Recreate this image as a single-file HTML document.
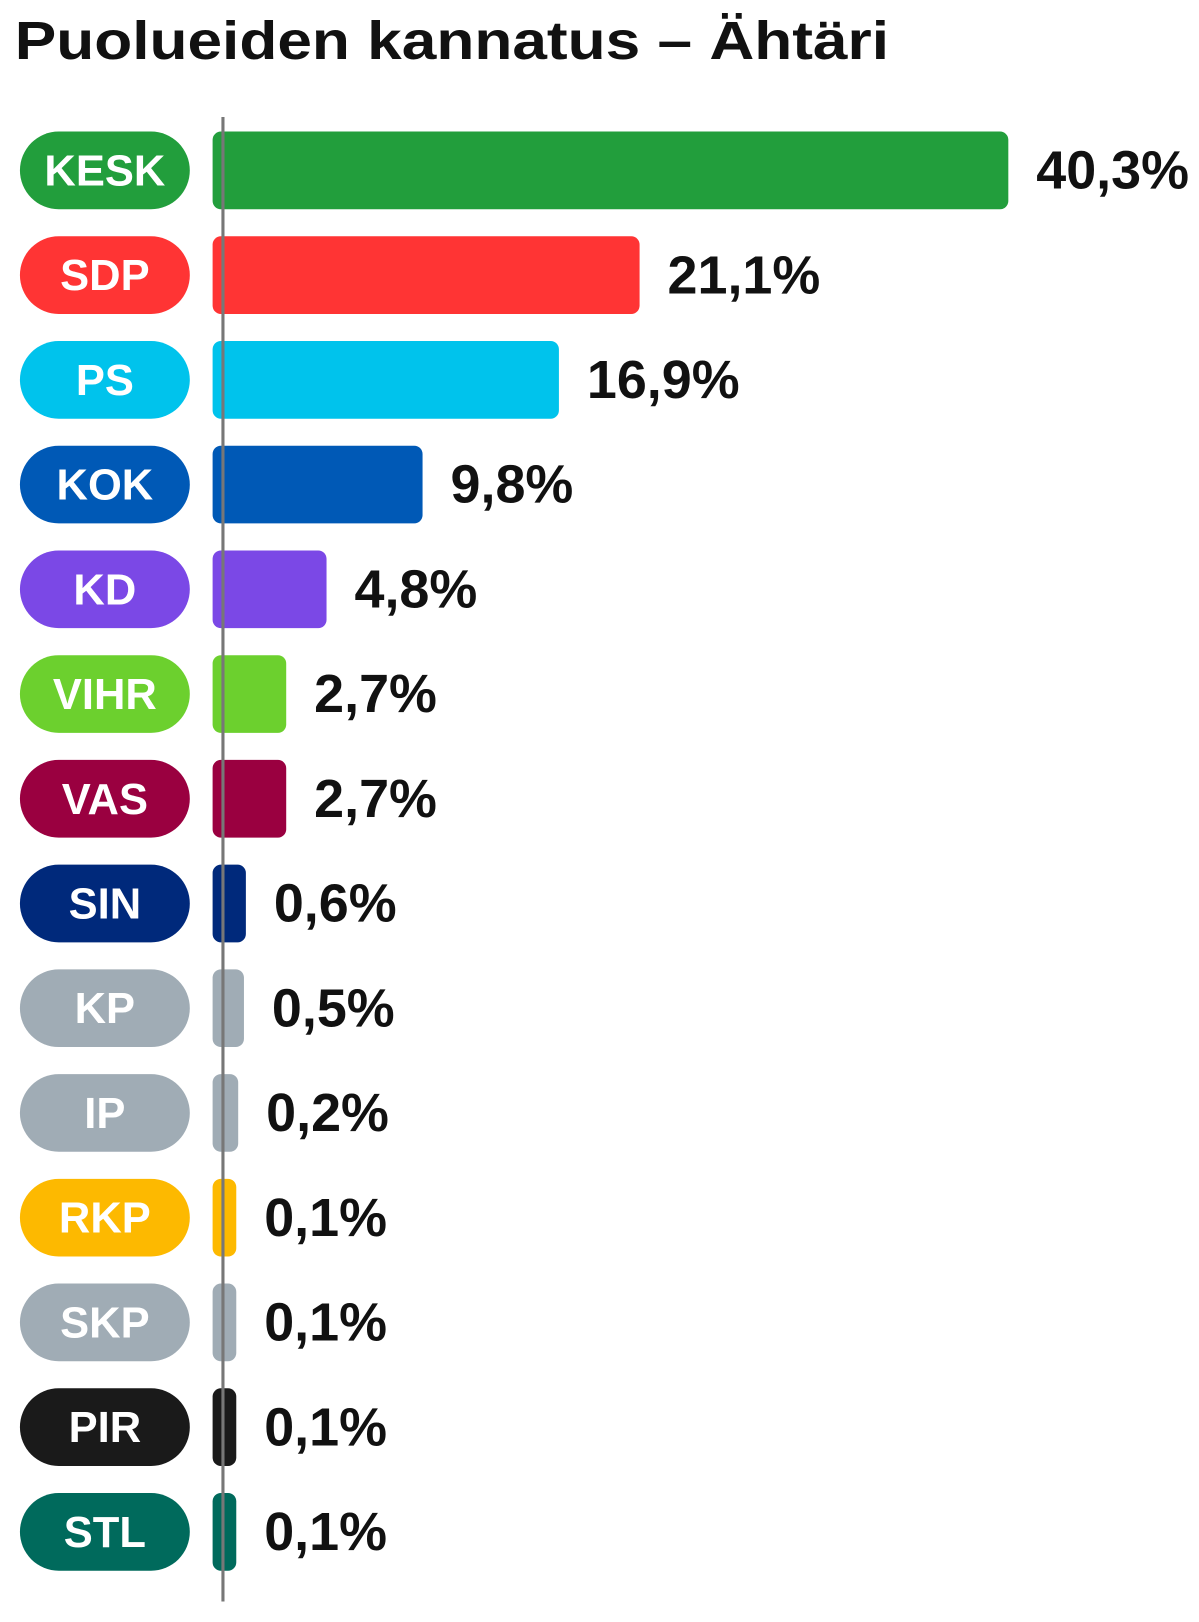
<!DOCTYPE html>
<html><head><meta charset="utf-8">
<style>
body{margin:0;background:#fff;width:1199px;height:1617px;overflow:hidden;font-family:"Liberation Sans",sans-serif;}
</style></head>
<body>
<svg width="1199" height="1617" viewBox="0 0 1157 1561">
<text x="14" y="57" font-size="52" font-weight="bold" fill="#111" textLength="844" lengthAdjust="spacingAndGlyphs">Puolueiden kannatus – Ähtäri</text>
<g id="bars"></g>
<line x1="215" y1="113" x2="215" y2="1546" stroke="#777" stroke-width="3"/>
</svg>
<script>
const parties=["KESK","SDP","PS","KOK","KD","VIHR","VAS","SIN","KP","IP","RKP","SKP","PIR","STL"];
const values=[40.3,21.1,16.9,9.8,4.8,2.7,2.7,0.6,0.5,0.2,0.1,0.1,0.1,0.1];
const labels=["40,3%","21,1%","16,9%","9,8%","4,8%","2,7%","2,7%","0,6%","0,5%","0,2%","0,1%","0,1%","0,1%","0,1%"];
const colors=["#229e3c","#ff3434","#00c3ec","#0059b6","#7b48e6","#6cd02e","#9a0040","#00297b","#a0acb5","#a0acb5","#fdb900","#a0acb5","#1a1a1a","#006a5c"];
const NS="http://www.w3.org/2000/svg";
const g=document.getElementById("bars");
const x=v=>226+v*18.54;
const y=i=>127+i*101.1;
const H=75;
parties.forEach((p,i)=>{
  const pill=document.createElementNS(NS,"rect");
  
  
  pill.setAttribute("x",19);pill.setAttribute("y",y(i));pill.setAttribute("width",164);pill.setAttribute("height",H);
  pill.setAttribute("rx",37.5);pill.setAttribute("fill",colors[i]);g.appendChild(pill);
  const pt=document.createElementNS(NS,"text");
  
  
  pt.setAttribute("x",101);pt.setAttribute("y",y(i)+52);pt.setAttribute("text-anchor","middle");
  pt.setAttribute("font-size",42);pt.setAttribute("font-weight","bold");pt.setAttribute("fill","#fff");
  pt.textContent=p;g.appendChild(pt);
  const b=document.createElementNS(NS,"rect");
  
  
  b.setAttribute("x",205);b.setAttribute("y",y(i));b.setAttribute("width",x(values[i])-205);b.setAttribute("height",H);
  b.setAttribute("rx",8);b.setAttribute("fill",colors[i]);g.appendChild(b);
  const t=document.createElementNS(NS,"text");
  
  
  t.setAttribute("x",x(values[i])+27);t.setAttribute("y",y(i)+55);
  t.setAttribute("font-size",52);t.setAttribute("font-weight","bold");t.setAttribute("fill","#111");
  t.textContent=labels[i];g.appendChild(t);
});
</script>
</body></html>
